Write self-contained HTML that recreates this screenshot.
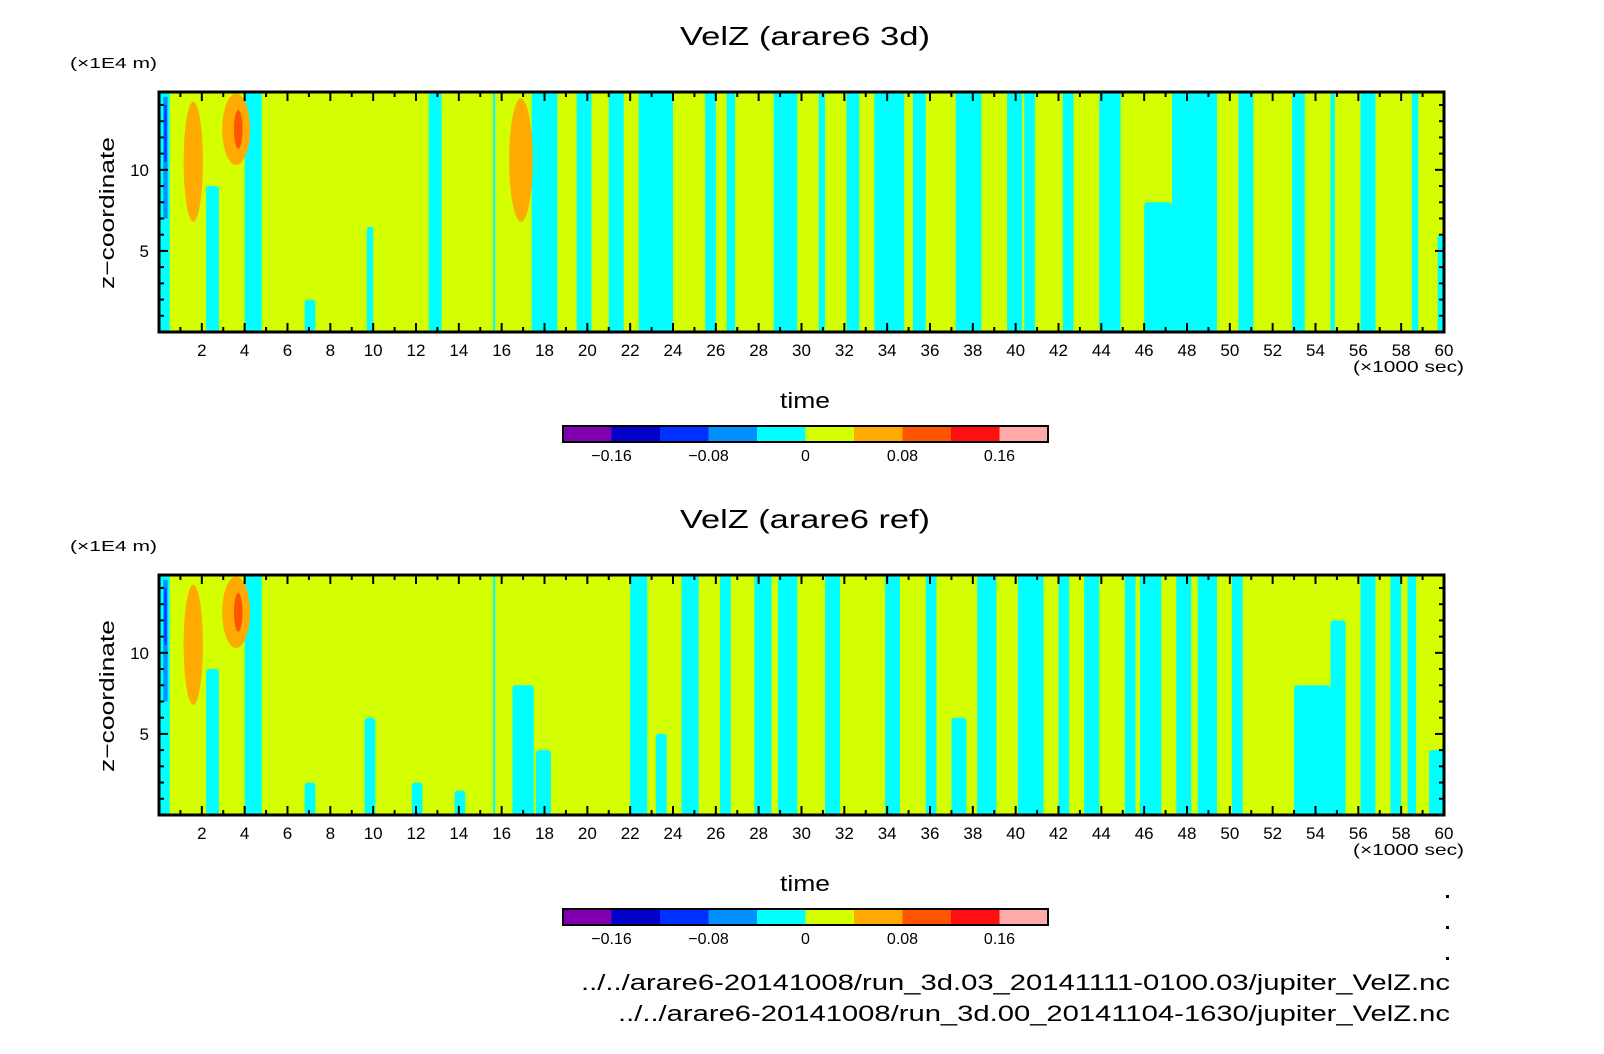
<!DOCTYPE html>
<html><head><meta charset="utf-8"><style>
html,body{margin:0;padding:0;background:#fff;}
svg{display:block;font-family:"Liberation Sans",sans-serif;}
</style></head><body>
<svg id="chart" width="1604" height="1054" viewBox="0 0 1604 1054"></svg>
<script>
// ---- data (time in 1000 sec, z in 1E4 m) ----
const topBandStart=[0,2.2,4.0,6.8,9.7,12.6,15.6,17.4,19.5,21.0,22.4,25.5,26.5,28.7,30.8,32.1,33.4,35.2,37.2,39.6,40.4,42.2,43.9,46.0,47.3,50.4,52.9,54.7,56.1,58.5,59.7];
const topBandEnd  =[0.5,2.8,4.8,7.3,10.0,13.2,15.7,18.6,20.2,21.7,24.0,26.0,26.9,29.8,31.1,32.7,34.8,35.8,38.4,40.3,40.9,42.7,44.9,47.3,49.4,51.1,53.5,54.9,56.8,58.8,60];
const topBandTop  =[15,9,15,2,6.5,15,15,15,15,15,15,15,15,15,15,15,15,15,15,15,15,15,15,8,15,15,15,15,15,15,6];
const botBandStart=[0,2.2,4.0,6.8,9.6,11.8,13.8,15.6,16.5,17.6,22.0,23.2,24.4,26.2,27.8,28.9,31.1,33.9,35.8,37.0,38.2,40.1,42.0,43.2,45.1,45.8,47.5,48.5,50.1,53.0,54.7,56.1,57.5,58.3,59.3];
const botBandEnd  =[0.5,2.8,4.8,7.3,10.1,12.3,14.3,15.7,17.5,18.3,22.8,23.7,25.2,26.7,28.6,29.8,31.8,34.6,36.3,37.7,39.1,41.3,42.5,43.9,45.6,46.8,48.2,49.4,50.6,54.7,55.4,56.8,58.0,58.7,60];
const botBandTop  =[15,9,15,2,6,2,1.5,15,8,4,15,5,15,15,15,15,15,15,15,6,15,15,15,15,15,15,15,15,15,8,12,15,15,15,4];
const blobT=[1.6,3.6]; const blobZ=[10.5,12.5]; const blobDT=[0.45,0.65]; const blobDZ=[3.7,2.2];
const topBlobT=[16.9]; const topBlobZ=[10.6]; const topBlobDT=[0.55]; const topBlobDZ=[3.8];
const cbColors=["#8000b0","#0000c8","#0030ff","#0090ff","#00ffff","#d4ff00","#ffaa00","#ff5500","#ff1010","#ffaaaa"];
const cbTicks=["\u22120.16","\u22120.08","0","0.08","0.16"];
const cbTickVals=[-0.16,-0.08,0,0.08,0.16];
const xTicks=[2,4,6,8,10,12,14,16,18,20,22,24,26,28,30,32,34,36,38,40,42,44,46,48,50,52,54,56,58,60];
const yTicks=[5,10];

const NS="http://www.w3.org/2000/svg";
const svg=document.getElementById('chart');
function mk(tag,attrs,parent,txt){const e=document.createElementNS(NS,tag);for(const k in attrs)e.setAttribute(k,attrs[k]);if(txt!==undefined)e.textContent=txt;(parent||svg).appendChild(e);return e;}

function panel(y0,title,bs,be,bt,extraT,extraZ,extraDT,extraDZ,pname){
  const X0=159,X1=1444,Y0=y0,Y1=y0+240,ZMAX=14.8;
  const xs=t=>X0+(t/60)*(X1-X0);
  const ys=z=>Y1-(z/ZMAX)*(Y1-Y0);
  const g=mk('g',{});
  
  
  const t=mk('text',{x:805,y:y0-47,'font-size':26,'text-anchor':'middle',fill:'#000',textLength:250,lengthAdjust:'spacingAndGlyphs'},g,title);
  
  const u=mk('text',{x:70,y:y0-24,'font-size':15,fill:'#000',textLength:87,lengthAdjust:'spacingAndGlyphs'},g,'(\u00d71E4 m)');
  
  const cp='clip'+y0;
  const cd=mk('clipPath',{id:cp},g);mk('rect',{x:X0,y:Y0,width:X1-X0,height:Y1-Y0},cd);
  const field=mk('g',{'clip-path':'url(#'+cp+')'},g);
  
  mk('rect',{x:X0,y:Y0,width:X1-X0,height:Y1-Y0,fill:'#d4ff00'},field);
  for(let i=0;i<bs.length;i++){
    const r=mk('rect',{x:xs(bs[i]),y:ys(bt[i]),width:xs(be[i])-xs(bs[i]),height:Y1-ys(bt[i]),fill:'#00ffff',rx:3},field);
    
  }
  const bl=mk('rect',{x:xs(0.2),y:ys(14.5),width:xs(0.4)-xs(0.2),height:ys(7)-ys(14.5),fill:'#0090ff'},field);
  
  const bl2=mk('rect',{x:xs(0.25),y:ys(14),width:xs(0.35)-xs(0.25),height:ys(10.5)-ys(14),fill:'#0030ff'},field);
  
  const T=blobT.concat(extraT),Z=blobZ.concat(extraZ),DT=blobDT.concat(extraDT),DZ=blobDZ.concat(extraDZ);
  for(let i=0;i<T.length;i++){
    const e=mk('ellipse',{cx:xs(T[i]),cy:ys(Z[i]),rx:xs(DT[i])-xs(0),ry:ys(0)-ys(DZ[i]),fill:'#ffaa00'},field);
    
  }
  const c=mk('ellipse',{cx:xs(3.7),cy:ys(12.5),rx:xs(0.2)-xs(0),ry:ys(0)-ys(1.2),fill:'#ff5500'},field);
  
  const fr=mk('rect',{x:X0,y:Y0,width:X1-X0,height:Y1-Y0,fill:'none',stroke:'#000','stroke-width':3},g);
  
  for(let v=1;v<60;v++){
    const L=v%2===0?9:5;
    mk('line',{x1:xs(v),x2:xs(v),y1:Y1,y2:Y1-L,stroke:'#000','stroke-width':2},g);
    mk('line',{x1:xs(v),x2:xs(v),y1:Y0,y2:Y0+L,stroke:'#000','stroke-width':2},g);
  }
  for(const v of xTicks){const tl=mk('text',{x:xs(v),y:Y1+24,'font-size':17,'text-anchor':'middle'},g,String(v));
    }
  for(let v=1;v<=14;v++){const L=v%5===0?9:5;
    mk('line',{x1:X0,x2:X0+L,y1:ys(v),y2:ys(v),stroke:'#000','stroke-width':2},g);
    mk('line',{x1:X1,x2:X1-L,y1:ys(v),y2:ys(v),stroke:'#000','stroke-width':2},g);}
  for(const v of yTicks){const tl=mk('text',{x:X0-10,y:ys(v)+6,'font-size':17,'text-anchor':'end'},g,String(v));
    }
  const yl=mk('text',{x:0,y:0,'font-size':20,'text-anchor':'middle',textLength:152,lengthAdjust:'spacingAndGlyphs',transform:'translate(114,'+(Y0+121)+') rotate(-90)'},g,'z\u2212coordinate');
  
  const xu=mk('text',{x:1464,y:Y1+40,'font-size':16,'text-anchor':'end',textLength:111,lengthAdjust:'spacingAndGlyphs'},g,'(\u00d71000 sec)');
  
  const xl=mk('text',{x:805,y:Y1+76,'font-size':22,'text-anchor':'middle',textLength:50,lengthAdjust:'spacingAndGlyphs'},g,'time');
  
  // colorbar
  const CX0=563,CX1=1048,CY=Y1+94,CH=16;
  const cs=v=>CX0+(v+0.2)/0.4*(CX1-CX0);
  const cb=mk('g',{},g);
  for(let i=0;i<cbColors.length;i++){const v0=-0.2+i*0.04;
    mk('rect',{x:cs(v0),y:CY,width:cs(v0+0.04)-cs(v0),height:CH,fill:cbColors[i]},cb);}
  mk('rect',{x:CX0,y:CY,width:CX1-CX0,height:CH,fill:'none',stroke:'#000','stroke-width':2},cb);
  for(let i=0;i<cbTicks.length;i++){const tl=mk('text',{x:cs(cbTickVals[i]),y:CY+35,'font-size':16,'text-anchor':'middle'},cb,cbTicks[i]);
    }
}
panel(92,'VelZ (arare6 3d)',topBandStart,topBandEnd,topBandTop,topBlobT,topBlobZ,topBlobDT,topBlobDZ,'panel-3d');
panel(575,'VelZ (arare6 ref)',botBandStart,botBandEnd,botBandTop,[],[],[],[],'panel-ref');
for(const dy of [895,926,957]){const d=mk('rect',{x:1446,y:dy,width:3,height:3,fill:'#000'});
  }
const f1=mk('text',{x:1450,y:990,'font-size':22,'text-anchor':'end',textLength:869,lengthAdjust:'spacingAndGlyphs'},svg,'../../arare6-20141008/run_3d.03_20141111-0100.03/jupiter_VelZ.nc');

const f2=mk('text',{x:1450,y:1021,'font-size':22,'text-anchor':'end',textLength:832,lengthAdjust:'spacingAndGlyphs'},svg,'../../arare6-20141008/run_3d.00_20141104-1630/jupiter_VelZ.nc');

</script>
</body></html>
